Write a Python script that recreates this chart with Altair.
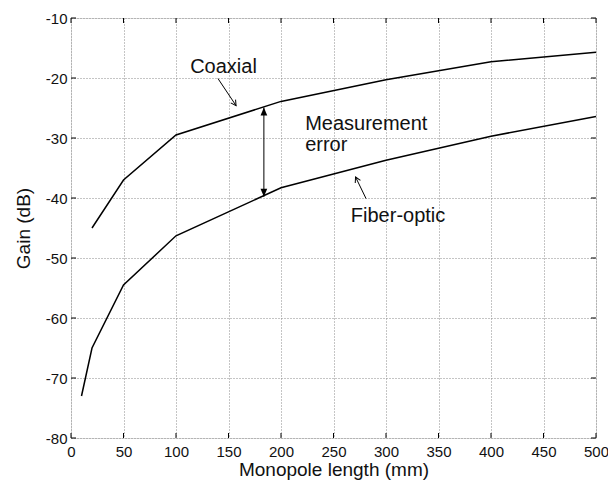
import math
import altair as alt
import pandas as pd

# ---- data ----
coax_x = [20, 50, 100, 200, 300, 400, 500]
coax_y = [-45.0, -37.0, -29.5, -23.9, -20.3, -17.3, -15.7]
fiber_x = [10, 20, 50, 100, 200, 300, 400, 500]
fiber_y = [-73.0, -65.0, -54.5, -46.3, -38.3, -33.7, -29.7, -26.4]

x_ticks = [0, 50, 100, 150, 200, 250, 300, 350, 400, 450, 500]
y_ticks = [-80, -70, -60, -50, -40, -30, -20, -10]

# annotation texts and positions (data units)
label_text = ["Coaxial", "Measurement", "error", "Fiber-optic"]
label_x = [113.5, 223.0, 223.0, 266.5]
label_y = [-18.1, -27.6, -31.2, -43.0]

# annotation arrows: start -> end (head at end)
arrow_x1 = [140.0, 281.0]
arrow_y1 = [-20.1, -40.1]
arrow_x2 = [157.2, 271.0]
arrow_y2 = [-24.6, -36.5]

# measurement error double arrow
err_x = 183.7
err_top = -24.9
err_bot = -39.8

W, H = 525, 420
XDOM = [0, 500]
YDOM = [-80, -10]
FONT = "Liberation Sans"

sx = W / (XDOM[1] - XDOM[0])
sy = H / (YDOM[1] - YDOM[0])

df = pd.concat([
    pd.DataFrame({"x": coax_x, "y": coax_y, "s": "Coaxial"}),
    pd.DataFrame({"x": fiber_x, "y": fiber_y, "s": "Fiber-optic"}),
])

xs = alt.Scale(domain=XDOM, nice=False, zero=False)
ys = alt.Scale(domain=YDOM, nice=False, zero=False)

base = alt.Chart(df)

common_axis = dict(
    grid=True, gridColor="#8a8a8a", gridDash=[1, 2], gridWidth=1,
    ticks=False, domain=False, labelFontSize=15, titleFontSize=19,
    labelFont=FONT, titleFont=FONT, labelColor="#111", titleColor="#111",
    titleFontWeight="normal", labelFlush=False,
    labelExpr="'' + datum.value",
)

lines = base.mark_line(color="black", strokeWidth=1.5).encode(
    x=alt.X("x:Q", scale=xs,
            axis=alt.Axis(values=x_ticks, title="Monopole length (mm)",
                          labelPadding=6, titlePadding=1, **common_axis)),
    y=alt.Y("y:Q", scale=ys,
            axis=alt.Axis(values=y_ticks, title="Gain (dB)",
                          labelPadding=4, titlePadding=12, **common_axis)),
    detail="s:N",
)

# inward ticks on all four sides
xt = pd.DataFrame({"x": x_ticks})
yt = pd.DataFrame({"y": y_ticks})
tick_bottom = alt.Chart(xt).mark_rule(color="black", strokeWidth=1).encode(
    x=alt.X("x:Q", scale=xs), y=alt.value(H), y2=alt.value(H - 5))
tick_top = alt.Chart(xt).mark_rule(color="black", strokeWidth=1).encode(
    x=alt.X("x:Q", scale=xs), y=alt.value(0), y2=alt.value(5))
tick_left = alt.Chart(yt).mark_rule(color="black", strokeWidth=1).encode(
    y=alt.Y("y:Q", scale=ys), x=alt.value(0), x2=alt.value(5))
tick_right = alt.Chart(yt).mark_rule(color="black", strokeWidth=1).encode(
    y=alt.Y("y:Q", scale=ys), x=alt.value(W), x2=alt.value(W - 5))

# text labels
tdf = pd.DataFrame({"t": label_text, "x": label_x, "y": label_y})
texts = alt.Chart(tdf).mark_text(align="left", baseline="middle", fontSize=20,
                                 font=FONT, color="#111").encode(
    x=alt.X("x:Q", scale=xs), y=alt.Y("y:Q", scale=ys), text="t:N")

# pointer arrows
adf = pd.DataFrame({"x": arrow_x1, "y": arrow_y1, "x2": arrow_x2, "y2": arrow_y2})
arrows = alt.Chart(adf).mark_rule(color="black", strokeWidth=1).encode(
    x=alt.X("x:Q", scale=xs), y=alt.Y("y:Q", scale=ys), x2="x2:Q", y2="y2:Q")

angles = []
for a, b, c, d in zip(arrow_x1, arrow_y1, arrow_x2, arrow_y2):
    dx = (c - a) * sx
    dy = -(d - b) * sy
    angles.append(math.degrees(math.atan2(dx, -dy)) % 360)
hdf = pd.DataFrame({"x": arrow_x2, "y": arrow_y2, "a": angles})
open_heads = alt.Chart(hdf).mark_point(
    shape="M-0.55,1 L0,0 L0.55,1", filled=False, color="black",
    strokeWidth=1, size=110, opacity=1).encode(
    x=alt.X("x:Q", scale=xs), y=alt.Y("y:Q", scale=ys),
    angle=alt.Angle("a:Q", scale=None))

# measurement error double arrow
edf = pd.DataFrame({"x": [err_x], "y": [err_top], "y2": [err_bot]})
err_line = alt.Chart(edf).mark_rule(color="black", strokeWidth=1).encode(
    x=alt.X("x:Q", scale=xs), y=alt.Y("y:Q", scale=ys), y2="y2:Q")
ehdf = pd.DataFrame({"x": [err_x, err_x], "y": [err_top, err_bot], "a": [0, 180]})
err_heads = alt.Chart(ehdf).mark_point(
    shape="M0,0 L-0.42,1 L0.42,1 Z", filled=True, color="black",
    size=256, opacity=1).encode(
    x=alt.X("x:Q", scale=xs), y=alt.Y("y:Q", scale=ys),
    angle=alt.Angle("a:Q", scale=None))

chart = alt.layer(
    lines, tick_bottom, tick_top, tick_left, tick_right,
    texts, arrows, open_heads, err_line, err_heads,
).properties(
    width=W, height=H,
    autosize=alt.AutoSizeParams(type="none"),
    padding={"left": 63, "top": 10, "right": 12, "bottom": 43},
).configure_view(
    stroke="black", strokeWidth=1.2
).configure(background="white")

chart.save("out.html", embed_options={"renderer": "svg", "actions": False})
